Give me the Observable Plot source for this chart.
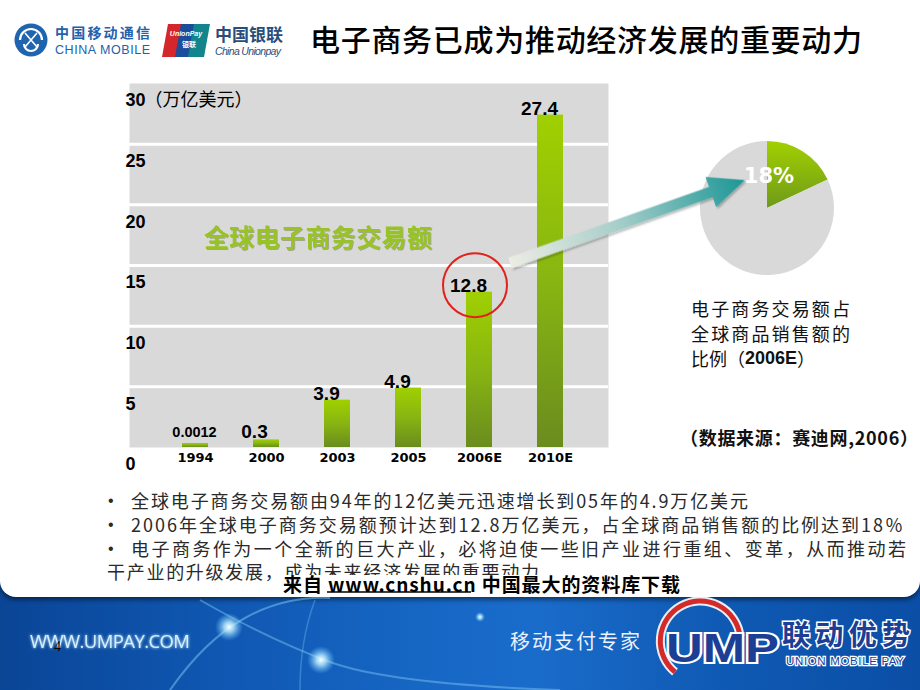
<!DOCTYPE html>
<html><head><meta charset="utf-8">
<script src="https://cdn.jsdelivr.net/npm/d3@7"></script>
<script src="https://cdn.jsdelivr.net/npm/@observablehq/plot@0.6"></script>
<style>
body{margin:0;background:#fff;}
#page{position:relative;width:920px;height:690px;overflow:hidden;background:#fff;font-family:"Noto Sans CJK SC",sans-serif;}
#footer{position:absolute;left:0;top:575px;width:920px;height:115px;
 background:linear-gradient(90deg,#0a4596 0%,#0f56b0 22%,#1666c4 45%,#1a6ccb 58%,#0f5ab4 78%,#0b4ea6 100%);}
#panel{position:absolute;left:0;top:0;width:920px;height:597px;background:#fff;border-radius:0 0 16px 16px;box-shadow:0 3px 4px rgba(0,0,0,.45);}
#chart{position:absolute;left:0;top:0;z-index:2;}
#chart svg{background:transparent !important;}
#overlay{position:absolute;left:0;top:0;z-index:3;}
</style></head>
<body><div id="page">
<div id="footer"></div>
<div id="panel"></div>
<div id="chart"></div>
<svg id="overlay" width="920" height="690" xmlns="http://www.w3.org/2000/svg">
 <defs>
  <linearGradient id="arrowGrad" gradientUnits="userSpaceOnUse" x1="0" y1="0" x2="249" y2="0">
   <stop offset="0" stop-color="#ecece4"/><stop offset="0.45" stop-color="#a9cfca"/><stop offset="1" stop-color="#1c9696"/>
  </linearGradient>
  <linearGradient id="pieGreen" x1="0" y1="0" x2="0" y2="1">
   <stop offset="0" stop-color="#a2d000"/><stop offset="1" stop-color="#6f9a1a"/>
  </linearGradient>
  <radialGradient id="glow"><stop offset="0" stop-color="#ffffff" stop-opacity="1"/><stop offset="0.35" stop-color="#bfefff" stop-opacity="0.8"/><stop offset="1" stop-color="#6fc8ff" stop-opacity="0"/></radialGradient>
  <filter id="soft" x="-10%" y="-10%" width="120%" height="130%"><feDropShadow dx="1" dy="1" stdDeviation="0.6" flood-color="#5d6b20" flood-opacity="0.45"/></filter>
  <filter id="shadowA" x="-5%" y="-20%" width="110%" height="160%"><feDropShadow dx="1" dy="2" stdDeviation="1.2" flood-color="#000" flood-opacity="0.3"/></filter>
  <filter id="txtGlow" x="-10%" y="-30%" width="120%" height="160%"><feGaussianBlur stdDeviation="1.5" result="b"/><feMerge><feMergeNode in="b"/><feMergeNode in="SourceGraphic"/></feMerge></filter>
 </defs>

 <!-- header logos -->
 <g>
  <circle cx="31" cy="40" r="16.5" fill="#1f64ae"/>
  <path d="M20,40 a11,11 0 0 1 22,0" fill="none" stroke="#fff" stroke-width="2.2"/>
  <path d="M24,44 a7,7 0 0 0 14,0" fill="none" stroke="#fff" stroke-width="2.2"/>
  <path d="M25,33 l12,14 M37,33 l-12,14" stroke="#fff" stroke-width="1.6"/>
  <text x="55" y="32" font-size="14" font-weight="bold" fill="#2161ad" dominant-baseline="central" textLength="95">中国移动通信</text>
  <text x="55" y="50" font-size="12.5" font-family="Liberation Sans" fill="#2161ad" dominant-baseline="central" textLength="95">CHINA MOBILE</text>
  <polygon points="168,24 184,24 178,57 162,57" fill="#d5262b"/>
  <polygon points="181,24 197,24 191,57 175,57" fill="#1c4d9b"/>
  <polygon points="194,24 210,24 204,57 188,57" fill="#12858c"/>
  <text x="186" y="36" font-size="7" font-style="italic" font-weight="bold" font-family="Liberation Sans" fill="#fff" text-anchor="middle">UnionPay</text>
  <text x="189" y="47" font-size="7" font-weight="bold" fill="#fff" text-anchor="middle">银联</text>
  <text x="215" y="33" font-size="17" font-weight="bold" fill="#2a4d7c" dominant-baseline="central" textLength="68">中国银联</text>
  <text x="215" y="51" font-size="10.5" font-style="italic" font-family="Liberation Sans" fill="#2a4d7c" dominant-baseline="central" textLength="66">China Unionpay</text>
 </g>
 <text x="310" y="38" font-size="30" font-weight="500" fill="#000" dominant-baseline="central" textLength="552">电子商务已成为推动经济发展的重要动力</text>

 <!-- chart annotation -->
 <text x="204" y="236" font-size="25" font-weight="bold" fill="#97c423" dominant-baseline="central" textLength="228" filter="url(#soft)">全球电子商务交易额</text>

 <!-- pie -->
 <g id="pie" transform="translate(767,208)"></g>

 <!-- arrow -->
 <g transform="translate(510,263) rotate(-19.45)" filter="url(#shadowA)">
  <polygon points="0,-5.5 213,-5.5 213,-16 249,0 213,16 213,5.5 0,5.5" fill="url(#arrowGrad)"/>
 </g>
 <text id="pieText" x="769" y="176" font-size="21" font-weight="bold" font-family="DejaVu Sans" fill="#fff" text-anchor="middle" dominant-baseline="central"></text>

 <g font-size="18" fill="#111" dominant-baseline="central">
  <text x="691" y="308" textLength="159">电子商务交易额占</text>
  <text x="691" y="333" textLength="159">全球商品销售额的</text>
  <text x="691" y="358">比例（<tspan font-weight="bold" font-family="Liberation Sans">2006E</tspan>）</text>
  <text x="680" y="437" font-weight="bold" textLength="238">（数据来源：赛迪网,2006）</text>
 </g>

 <!-- bullets -->
 <g font-size="18" fill="#2a2a2a" dominant-baseline="central">
  <text x="108" y="500" font-family="Liberation Sans" font-size="16">•</text>
  <text x="131" y="500" textLength="617">全球电子商务交易额由94年的12亿美元迅速增长到05年的4.9万亿美元</text>
  <text x="108" y="524" font-family="Liberation Sans" font-size="16">•</text>
  <text x="131" y="524" textLength="772">2006年全球电子商务交易额预计达到12.8万亿美元，占全球商品销售额的比例达到18％</text>
  <text x="108" y="548" font-family="Liberation Sans" font-size="16">•</text>
  <text x="131" y="548" textLength="775">电子商务作为一个全新的巨大产业，必将迫使一些旧产业进行重组、变革，从而推动若</text>
  <text x="107" y="571" textLength="432">干产业的升级发展，成为未来经济发展的重要动力</text>
 </g>
 <rect x="281" y="575" width="404" height="19" fill="#fff"/>
 <text x="283" y="583" font-size="19" font-weight="bold" fill="#000" dominant-baseline="central" textLength="397">来自 www.cnshu.cn 中国最大的资料库下载</text>
 <line x1="327" y1="592" x2="471" y2="592" stroke="#000" stroke-width="1.5"/>

 <!-- footer decoration -->
 <g>
  <path d="M170,690 Q205,640 245,618 T330,598" fill="none" stroke="#8fd6ff" stroke-opacity="0.45" stroke-width="2"/>
  <path d="M200,600 Q270,640 330,662 T560,690" fill="none" stroke="#8fd6ff" stroke-opacity="0.4" stroke-width="2"/>
  <path d="M300,690 Q300,640 315,600" fill="none" stroke="#8fd6ff" stroke-opacity="0.3" stroke-width="1.5"/>
  <circle cx="229" cy="627" r="14" fill="url(#glow)"/>
  <circle cx="321" cy="660" r="14" fill="url(#glow)"/>
  <circle cx="480" cy="617" r="5" fill="url(#glow)"/>
  <text x="30" y="640" font-size="18.5" font-family="Open Sans" fill="#d2f0ff" dominant-baseline="central" textLength="160" filter="url(#txtGlow)">WWW.UMPAY.COM</text>
  <text x="54" y="646" font-size="14" font-family="Liberation Serif" fill="#000" dominant-baseline="central">4</text>
  <text x="510" y="640" font-size="20" fill="#eaf2ff" dominant-baseline="central" textLength="130">移动支付专家</text>
  <path d="M675,672 A40,40 0 1 1 740,636" fill="none" stroke="#fff" stroke-width="9" stroke-opacity="0.9"/>
  <path d="M675,672 A40,40 0 1 1 740,636" fill="none" stroke="#d52a2a" stroke-width="5"/>
  <text x="666" y="648" font-size="40" font-weight="bold" font-family="Liberation Sans" fill="#1c3f95" stroke="#fff" stroke-width="4" paint-order="stroke" dominant-baseline="central" textLength="113" lengthAdjust="spacingAndGlyphs">UMP</text>
  <text x="782" y="633" font-size="28" font-weight="bold" fill="#1c3f95" stroke="#fff" stroke-width="3" paint-order="stroke" dominant-baseline="central" textLength="128">联动优势</text>
  <text x="786" y="661" font-size="11.5" font-family="Liberation Sans" fill="#1c3f95" stroke="#fff" stroke-width="2.5" paint-order="stroke" dominant-baseline="central" textLength="118">UNION MOBILE PAY</text>
 </g>
</svg>
</div>
<script>
// ---- data ----
const years = ["1994", "2000", "2003", "2005", "2006E", "2010E"];
const values = [0.0012, 0.3, 3.9, 4.9, 12.8, 27.4];
const valueLabels = ["0.0012", "0.3", "3.9", "4.9", "12.8", "27.4"];
const yTicks = [0, 5, 10, 15, 20, 25, 30];
const gridLines = [5, 10, 15, 20, 25];
const unitLabel = "（万亿美元）";
const highlightYear = "2006E";
const highlightValue = 12.8;
const pieLabels = ["电子商务交易额", "其他"];
const pieShares = [18, 82];
const pieText = "18%";

const data = years.map((y, i) => ({year: y, value: values[i], label: valueLabels[i]}));
const BAR = "#99cc01";

const chart = Plot.plot({
  width: 920, height: 690,
  marginTop: 83, marginBottom: 243, marginLeft: 129, marginRight: 312,
  style: {background: "transparent", overflow: "visible"},
  x: {domain: years, range: [158.5, 586.5], paddingInner: 0.64, paddingOuter: 0.32, axis: null},
  y: {domain: [0, 30], axis: null},
  marks: [
    Plot.frame({fill: "#d9d9d9", stroke: "none"}),
    Plot.ruleY(gridLines, {stroke: "#ffffff", strokeWidth: 3}),
    Plot.barY(data.filter(d => d.value >= 1), {x: "year", y: "value", fill: BAR}),
    Plot.barY(data.filter(d => d.value < 1), {x: "year", y: "value", fill: BAR, insetTop: -4}),
    Plot.text(data.filter(d => d.value >= 1), {x: "year", y: "value", text: "label", dx: -11, dy: 0, lineAnchor: "bottom",
      fontSize: 19, fontWeight: "bold", fontFamily: "Liberation Sans", fill: "#000"}),
    Plot.text(data.filter(d => d.value >= 0.01 && d.value < 1), {x: "year", y: "value", text: "label", dx: -12, dy: -6, lineAnchor: "bottom",
      fontSize: 19, fontWeight: "bold", fontFamily: "Liberation Sans", fill: "#000"}),
    Plot.text(data.filter(d => d.value < 0.01), {x: "year", y: "value", text: "label", dx: -1, dy: -10, lineAnchor: "bottom",
      fontSize: 14.5, fontWeight: "bold", fontFamily: "Liberation Sans", fill: "#000"}),
    Plot.text(data, {x: "year", text: "year", frameAnchor: "bottom", dy: 14,
      fontSize: 13, fontWeight: "bold", fontFamily: "DejaVu Sans", fill: "#000"}),
    Plot.text(yTicks, {y: d => d, text: d => String(d), frameAnchor: "left", textAnchor: "start", dx: -4, dy: 17,
      fontSize: 18, fontWeight: "bold", fontFamily: "Liberation Sans", fill: "#000"}),
    Plot.text([30], {y: d => d, text: () => unitLabel, frameAnchor: "left", textAnchor: "start", dx: 15, dy: 17,
      fontSize: 18, fontFamily: "Noto Sans CJK SC", fill: "#000"}),
    Plot.dot([{year: highlightYear, value: highlightValue}], {x: "year", y: "value", r: 32, dx: -4.5, dy: -7,
      stroke: "#e0231c", strokeWidth: 2, fill: "none"})
  ]
});

const svgSel = d3.select(chart);
svgSel.insert("defs", ":first-child").html(
  '<linearGradient id="barGrad" x1="0" y1="0" x2="0" y2="1">' +
  '<stop offset="0" stop-color="#a0d000"/><stop offset="0.5" stop-color="#88b512"/><stop offset="1" stop-color="#6a8c1e"/></linearGradient>');
svgSel.selectAll('[fill="' + BAR + '"]').attr("fill", "url(#barGrad)");
document.getElementById("chart").appendChild(chart);

// pie
const pie = d3.pie().sort(null).value(d => d)(pieShares);
const arc = d3.arc().innerRadius(0).outerRadius(67);
d3.select("#pie").selectAll("path").data(pie).join("path")
  .attr("d", arc)
  .attr("fill", (d, i) => i === 0 ? "url(#pieGreen)" : "#d9d9d9")
  .append("title").text((d, i) => pieLabels[i] + " " + pieShares[i] + "%");
document.getElementById("pieText").textContent = pieText;
</script>
</body></html>
